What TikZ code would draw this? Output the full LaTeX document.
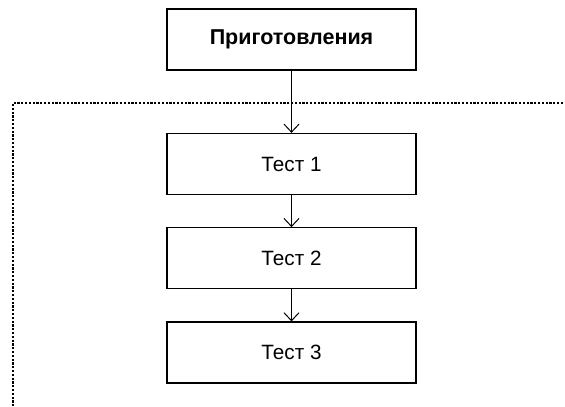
\documentclass[tikz,border=0pt]{standalone}
\usepackage{fontspec}
\setmainfont{Liberation Sans}
\usetikzlibrary{arrows.meta, positioning}

\begin{document}
\begin{tikzpicture}[
		x=1pt, y=1pt,
		blk/.style={draw, line width=1.3pt, minimum height=61pt, minimum width=249pt, inner sep=0pt, align=center, font=\fontsize{20.7}{24}\selectfont},
		flow/.style={-{Straight Barb[length=8pt, width=15pt]}, line width=1pt},
		frame/.style={line width=1.3pt, dash pattern=on 2.2pt off 1.6pt}
	]
	\useasboundingbox (0,0) rectangle (565,-407);

	\node[blk, font=\fontsize{21.5}{25}\selectfont\bfseries] (prep) at (291.5,-39.5) {Приготовления};
	\node[blk] (t1) at (291.5,-164) {Тест 1};
	\node[blk, below=32pt of t1] (t2) {Тест 2};
	\node[blk, below=32pt of t2] (t3) {Тест 3};

	% dotted frame, open on the right and bottom
	\draw[frame] (563,-103) -- (13,-103) -- (13,-407);

	\draw[flow] (prep.south) -- (t1.north);
	\draw[flow] (t1.south) -- (t2.north);
	\draw[flow] (t2.south) -- (t3.north);
\end{tikzpicture}
\end{document}
